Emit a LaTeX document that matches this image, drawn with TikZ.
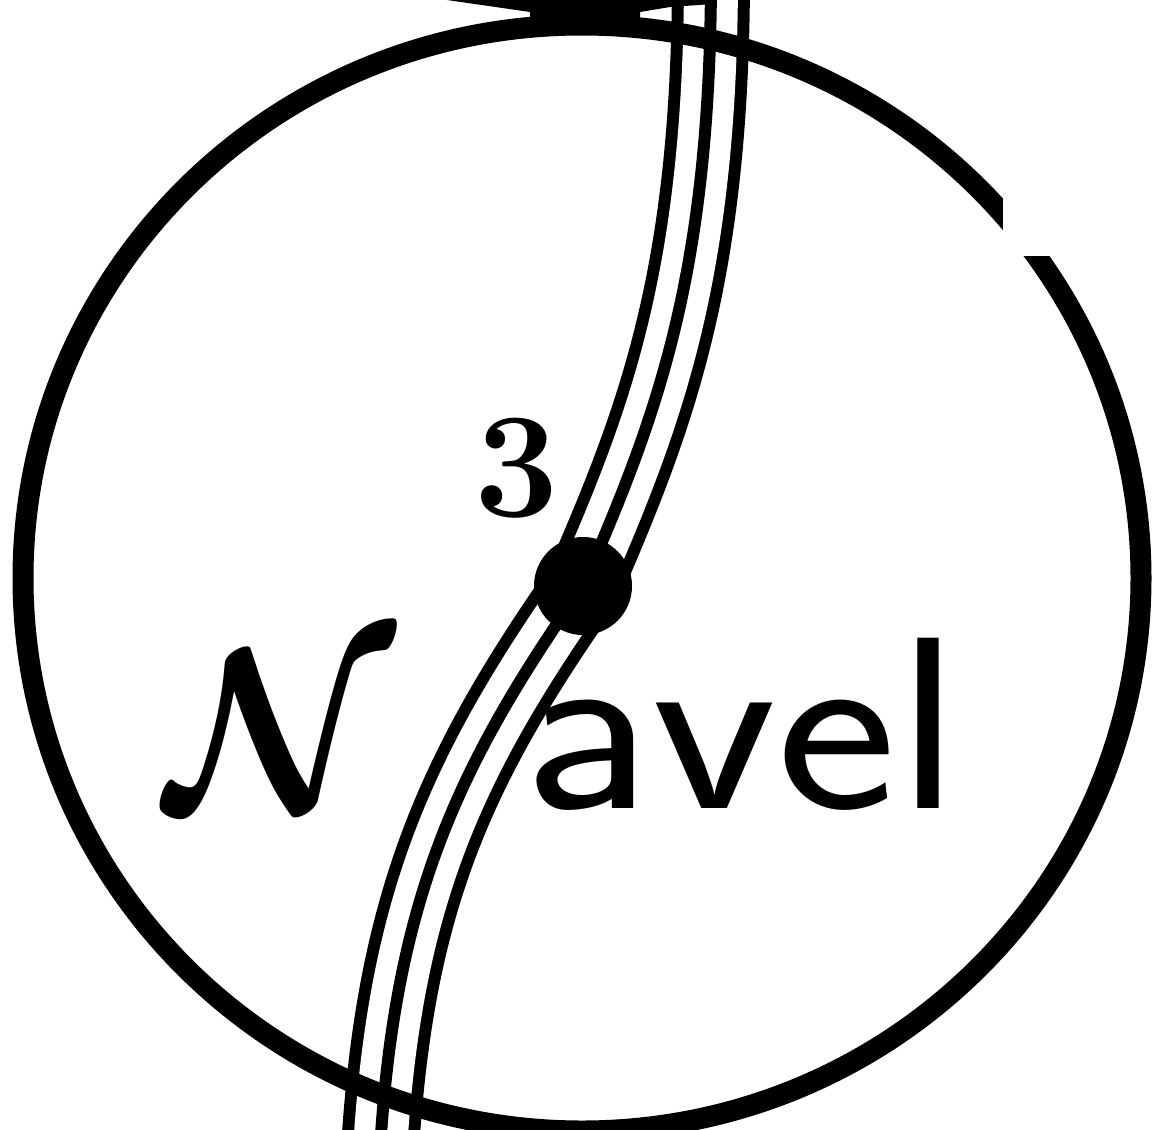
\documentclass[tikz,border=0pt]{standalone}
\usepackage{tikz}
\usetikzlibrary{positioning}

\begin{document}
\begin{tikzpicture}[
    x=1pt, y=-1pt,
    rim/.style   ={draw=black, line width=21pt},
    rail/.style  ={draw=black, line width=12pt, line cap=butt},
    point/.style ={circle, fill=black, minimum size=98pt, inner sep=0pt},
    num/.style   ={font=\bfseries\fontsize{150}{150}\selectfont, inner sep=0pt},
    word/.style  ={font=\sffamily\fontsize{236}{236}\selectfont, inner sep=0pt},
]
\useasboundingbox (0,0) rectangle (1163,1130);
\clip (0,0) rectangle (1163,1130);

% ----------------------------------------------------------------------
%  meridian : three parallel lines, bent under the point
% ----------------------------------------------------------------------
\coordinate (top) at (711,-20);
\coordinate (mid) at (583,586);
\coordinate (bot) at (380,1150);
\def\meridian{(top) .. controls (710,280) and (655,420) .. (mid)
    .. controls (457,766) and (395,900) .. (bot)}
\draw[rail, double=white, double distance=54pt] \meridian;
\draw[rail] \meridian;

% ----------------------------------------------------------------------
%  outline
% ----------------------------------------------------------------------
\draw[rim] (582,578) ellipse [x radius=559pt, y radius=553pt];
\fill[black] (447,0) -- (530,12) -- (530,30) -- (640,30) -- (640,12)
    -- (670,7) -- (713,4) -- (713,0) -- cycle;
\fill[white] (1003,0) rectangle (1163,256);

% ----------------------------------------------------------------------
%  point and labels
% ----------------------------------------------------------------------
\node[point] (navel) at (mid) {};
\node[num, anchor=base] (ptnum) at (517,516) {3};
\node[inner sep=0pt, anchor=base west] (capn) at (165,808)
    {\scalebox{21}[23]{\boldmath$\mathcal{N}$}};
\node[word, anchor=base west] (rest) at (522,808)
    {\scalebox{1.22}[1.04]{avel}};

\end{tikzpicture}
\end{document}
